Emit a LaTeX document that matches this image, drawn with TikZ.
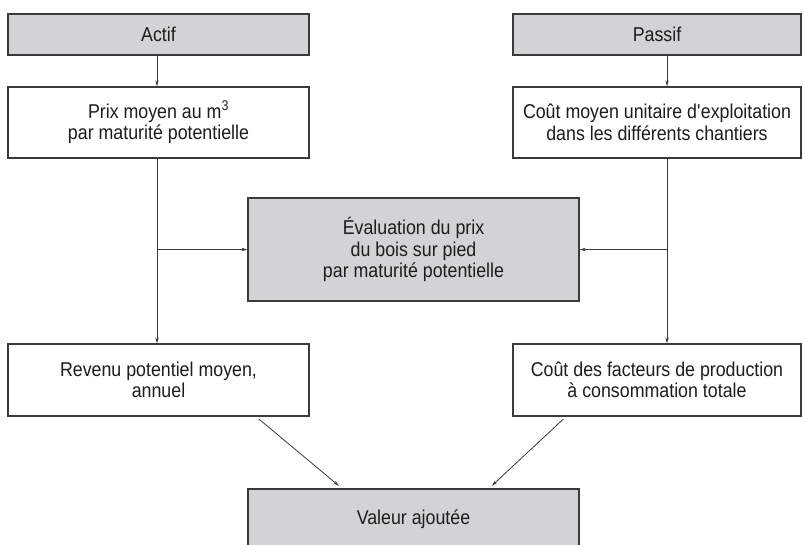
\documentclass[tikz,border=0pt]{standalone}
\usepackage{fontspec}
\setmainfont[FakeStretch=0.89]{Liberation Sans}
\usetikzlibrary{arrows.meta,calc}
\definecolor{boxgray}{HTML}{D1D3D4}
\definecolor{linegray}{HTML}{3A3A3A}
\definecolor{textdark}{HTML}{1E1C1D}
\begin{document}
\begin{tikzpicture}[x=1pt,y=-1pt,
  basebox/.style={draw=linegray, line width=1.2pt, inner sep=0pt, align=center,
    text=textdark, font=\fontsize{20}{21.5}\selectfont},
  whitebox/.style={basebox, fill=white},
  graybox/.style={basebox, fill=boxgray},
  conn/.style={draw=linegray, line width=0.8pt, -{Stealth[length=6pt,width=3.4pt]}}]
\useasboundingbox (0,0) rectangle (803,544);
\clip (0,0) rectangle (803,544);
\node[graybox, minimum width=301pt, minimum height=41pt] (actif) at (158.5,34.5) {Actif};
\node[graybox, minimum width=288pt, minimum height=41pt] (passif) at (657,34.5) {Passif};
\node[whitebox, minimum width=301pt, minimum height=71pt] (prix) at (158.5,122.5) {Prix moyen au m\textsuperscript{3}\\par maturité potentielle};
\node[whitebox, minimum width=288pt, minimum height=71pt] (cout) at (657,122.5) {Coût moyen unitaire d\textquotesingle exploitation\\dans les différents chantiers};
\node[graybox, minimum width=331pt, minimum height=103pt] (eval) at (413.5,249.5) {Évaluation du prix\\du bois sur pied\\par maturité potentielle};
\node[whitebox, minimum width=301pt, minimum height=72pt] (revenu) at (158.5,380) {Revenu potentiel moyen,\\annuel};
\node[whitebox, minimum width=288pt, minimum height=72pt] (facteurs) at (657,380) {Coût des facteurs de production\\à consommation totale};
\node[graybox, minimum width=331pt, minimum height=61pt] (valeur) at (413.5,519.5) {Valeur ajoutée};
\coordinate (lx) at (157,0);
\coordinate (rx) at (667,0);
\draw[conn] (actif.south -| lx) -- (prix.north -| lx);
\draw[conn] (passif.south -| rx) -- (cout.north -| rx);
\draw[conn] (prix.south -| lx) -- (revenu.north -| lx);
\draw[conn] (eval.west -| lx) -- (eval.west);
\draw[conn] (cout.south -| rx) -- (facteurs.north -| rx);
\draw[conn] (eval.east -| rx) -- (eval.east);
\draw[conn, shorten <=3.5pt, shorten >=4pt] ($(revenu.south)+(97.5,0)$) -- ($(valeur.north)+(-71.5,0)$);
\draw[conn, shorten <=3.5pt, shorten >=4pt] ($(facteurs.south)+(-91,0)$) -- ($(valeur.north)+(75.5,0)$);
\end{tikzpicture}
\end{document}
